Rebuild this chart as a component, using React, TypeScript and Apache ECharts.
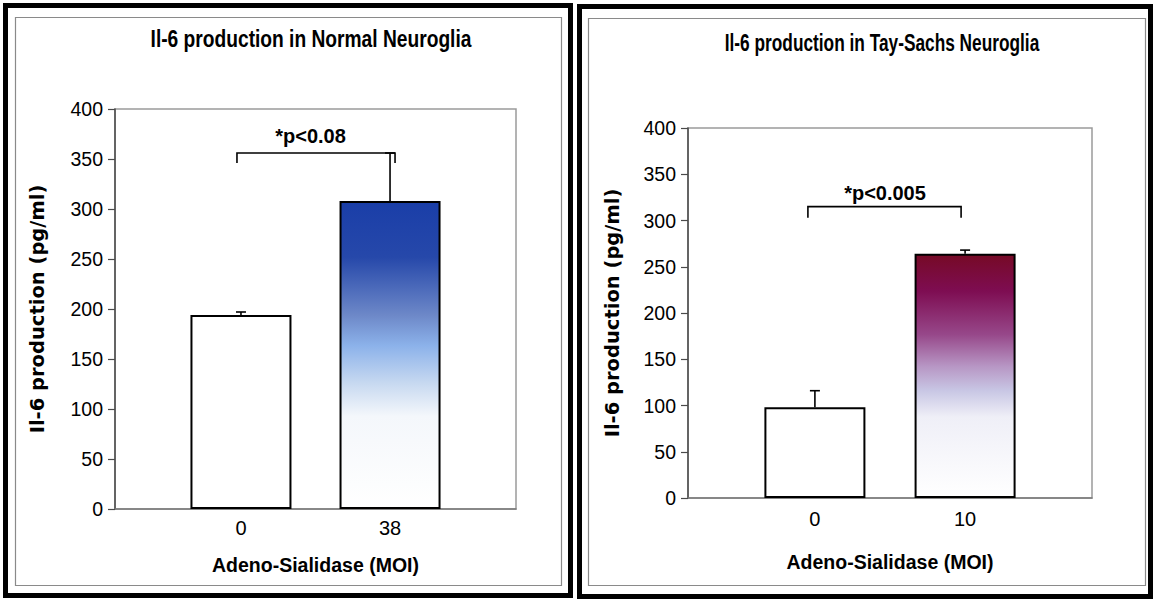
import React, { useEffect, useRef } from "react";
import * as echarts from "echarts";

// ---- data ----
const leftCategories = ["0", "38"];
const rightCategories = ["0", "10"];
const leftValues = [194, 308];
const leftErrors = [3, 48];
const rightValues = [98, 264];
const rightErrors = [18, 4];
const leftTitle = "Il-6 production in Normal Neuroglia";
const rightTitle = "Il-6 production in Tay-Sachs Neuroglia";
const yAxisName = "Il-6 production (pg/ml)";
const xAxisName = "Adeno-Sialidase (MOI)";
const leftPLabel = "*p<0.08";
const rightPLabel = "*p<0.005";
// bracket: [level, drop]
const leftBracket = [356, 10];
const rightBracket = [315, 12];
const leftPLabelValue = 373;
const rightPLabelValue = 330;
const yTicks = [0, 50, 100, 150, 200, 250, 300, 350, 400];

const SANS = "'Liberation Sans', Arial, sans-serif";

const blueGrad = () =>
  new echarts.graphic.LinearGradient(0, 0, 0, 1, [
    { offset: 0, color: "#1a3ea8" },
    { offset: 0.18, color: "#2648aa" },
    { offset: 0.37, color: "#6d88c8" },
    { offset: 0.47, color: "#8cb2ea" },
    { offset: 0.59, color: "#c6d8f0" },
    { offset: 0.7, color: "#f4f7fb" },
    { offset: 1, color: "#ffffff" },
  ]);
const maroonGrad = () =>
  new echarts.graphic.LinearGradient(0, 0, 0, 1, [
    { offset: 0, color: "#760a26" },
    { offset: 0.15, color: "#7e0d52" },
    { offset: 0.33, color: "#97488a" },
    { offset: 0.46, color: "#b796c4" },
    { offset: 0.56, color: "#c8c6e4" },
    { offset: 0.67, color: "#efeff7" },
    { offset: 1, color: "#ffffff" },
  ]);

function errorSeries(values: number[], errors: number[], idx: number) {
  return {
    type: "custom",
    xAxisIndex: idx,
    yAxisIndex: idx,
    z: 4,
    silent: true,
    data: values.map((v, i) => [i, v, errors[i]]),
    renderItem: (params: any, api: any) => {
      const x = api.value(0);
      const v = api.value(1);
      const e = api.value(2);
      const p0 = api.coord([x, v]);
      const p1 = api.coord([x, v + e]);
      const st = { stroke: "#000", lineWidth: 1.6 };
      return {
        type: "group",
        children: [
          { type: "line", shape: { x1: p0[0], y1: p0[1], x2: p1[0], y2: p1[1] }, style: st },
          { type: "line", shape: { x1: p1[0] - 5, y1: p1[1], x2: p1[0] + 5, y2: p1[1] }, style: st },
        ],
      };
    },
  };
}

function bracketSeries(bracket: number[], label: string, labelValue: number, idx: number, dl: number, dr: number) {
  return {
    type: "custom",
    xAxisIndex: idx,
    yAxisIndex: idx,
    z: 5,
    silent: true,
    data: [[0, 1, bracket[0], bracket[1], labelValue]],
    renderItem: (params: any, api: any) => {
      const a = api.coord([api.value(0), api.value(2)]);
      const b = api.coord([api.value(1), api.value(2)]);
      const aDown = api.coord([api.value(0), api.value(2) - api.value(3)]);
      const bDown = api.coord([api.value(1), api.value(2) - api.value(3)]);
      const t = api.coord([(api.value(0) + api.value(1)) / 2, api.value(4)]);
      return {
        type: "group",
        children: [
          {
            type: "polyline",
            shape: { points: [[aDown[0] + dl, aDown[1]], [a[0] + dl, a[1]], [b[0] + dr, b[1]], [bDown[0] + dr, bDown[1]]] },
            style: { stroke: "#000", lineWidth: 1.6, fill: "none" },
          },
          {
            type: "text",
            x: t[0] - 5,
            y: t[1],
            style: {
              text: label,
              fill: "#000",
              font: `bold 20px ${SANS}`,
              align: "center",
              verticalAlign: "middle",
            },
          },
        ],
      };
    },
  };
}

function xAxis(cats: string[], gridIndex: number, margin: number, nameGap: number) {
  return {
    type: "value",
    gridIndex,
    min: -0.845,
    max: 1.845,
    splitLine: { show: false },
    axisTick: { show: false },
    axisLine: { show: true, onZero: false, lineStyle: { color: "#7a7a7a", width: 1.5 } },
    axisLabel: {
      customValues: [0, 1],
      formatter: (v: number) => cats[Math.round(v)],
      color: "#000",
      fontSize: 20,
      fontFamily: SANS,
      margin,
    },
    name: xAxisName,
    nameLocation: "middle",
    nameGap,
    nameTextStyle: { color: "#000", fontSize: 19.5, fontWeight: "bold", fontFamily: SANS },
  };
}

function yAxis(gridIndex: number, nameGap: number) {
  return {
    type: "value",
    gridIndex,
    min: 0,
    max: 400,
    interval: 50,
    splitLine: { show: false },
    axisLine: { show: true, onZero: false, lineStyle: { color: "#4a4a4a", width: 1.5 } },
    axisTick: { show: true, length: 7, lineStyle: { color: "#4a4a4a", width: 1.2 } },
    axisLabel: {
      color: "#000",
      fontSize: 19.5,
      fontFamily: SANS,
      margin: 12,
      customValues: yTicks,
    },
    name: yAxisName,
    nameLocation: "middle",
    nameRotate: 90,
    nameGap,
    nameTextStyle: { color: "#000", fontSize: 19.5, fontWeight: "bold", fontFamily: "'DejaVu Sans', sans-serif" },
  };
}

export default function App() {
  const ref = useRef<HTMLDivElement>(null);
  useEffect(() => {
    document.body.style.margin = "0";
    const chart = echarts.init(ref.current!, null, { renderer: "svg" });
    chart.setOption({
      animation: false,
      backgroundColor: "#ffffff",
      grid: [
        { left: 115, top: 109, width: 401, height: 400, show: true, borderColor: "#9a9a9a", borderWidth: 1.5, backgroundColor: "#fff" },
        { left: 688, top: 128, width: 404, height: 370, show: true, borderColor: "#9a9a9a", borderWidth: 1.5, backgroundColor: "#fff" },
      ],
      xAxis: [xAxis(leftCategories, 0, 9, 46), xAxis(rightCategories, 1, 11, 54)],
      yAxis: [yAxis(0, 68), yAxis(1, 66)],
      graphic: [
        { type: "rect", shape: { x: 5.5, y: 5.5, width: 565, height: 590 }, style: { fill: "none", stroke: "#000", lineWidth: 5 }, z: 10 },
        { type: "rect", shape: { x: 579.5, y: 6.5, width: 571, height: 590 }, style: { fill: "none", stroke: "#000", lineWidth: 5 }, z: 10 },
        { type: "rect", shape: { x: 15.5, y: 17.5, width: 546, height: 568 }, style: { fill: "none", stroke: "#8a8a8a", lineWidth: 1.2 }, z: 10 },
        { type: "rect", shape: { x: 588.5, y: 18.5, width: 557, height: 567 }, style: { fill: "none", stroke: "#8a8a8a", lineWidth: 1.2 }, z: 10 },
        {
          type: "text", x: 311, y: 39, z: 10, scaleX: 0.8,
          style: { text: leftTitle, fill: "#000", font: `bold 24px ${SANS}`, align: "center", verticalAlign: "middle" },
        },
        {
          type: "text", x: 882, y: 42, z: 10, scaleX: 0.72,
          style: { text: rightTitle, fill: "#000", font: `bold 24px ${SANS}`, align: "center", verticalAlign: "middle" },
        },
      ],
      series: [
        {
          type: "bar",
          xAxisIndex: 0,
          yAxisIndex: 0,
          barWidth: 101,
          data: leftValues.map((v, i) => ({
            value: [i, v],
            itemStyle: { color: i === 0 ? "#ffffff" : blueGrad(), borderColor: "#000", borderWidth: 2 },
          })),
        },
        {
          type: "bar",
          xAxisIndex: 1,
          yAxisIndex: 1,
          barWidth: 101,
          data: rightValues.map((v, i) => ({
            value: [i, v],
            itemStyle: { color: i === 0 ? "#ffffff" : maroonGrad(), borderColor: "#000", borderWidth: 2 },
          })),
        },
        errorSeries(leftValues, leftErrors, 0),
        errorSeries(rightValues, rightErrors, 1),
        bracketSeries(leftBracket, leftPLabel, leftPLabelValue, 0, -4, 5),
        bracketSeries(rightBracket, rightPLabel, rightPLabelValue, 1, -7, -4),
      ],
    });
    return () => chart.dispose();
  }, []);
  return <div ref={ref} style={{ width: 1155, height: 599 }} />;
}
